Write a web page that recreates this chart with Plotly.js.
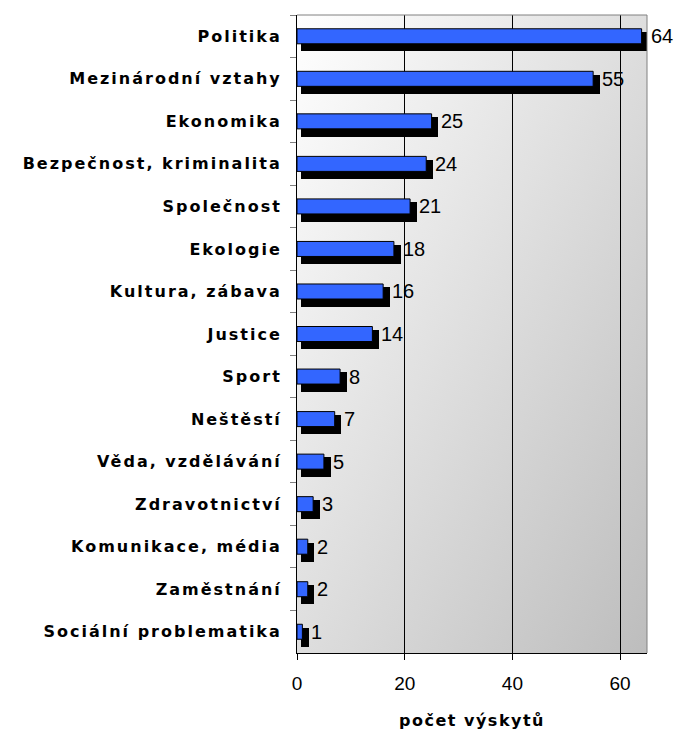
<!DOCTYPE html>
<html><head><meta charset="utf-8">
<script src="https://cdn.plot.ly/plotly-3.0.1.min.js"></script>
<style>
html,body{margin:0;padding:0;background:#fff}
#chart .ytick text{letter-spacing:2px}
#chart .g-xtitle text{letter-spacing:1.5px}
</style></head>
<body><div id="chart" style="width:674px;height:738px"></div>
<script>
const categories = ["Politika","Mezinárodní vztahy","Ekonomika","Bezpečnost, kriminalita","Společnost","Ekologie","Kultura, zábava","Justice","Sport","Neštěstí","Věda, vzdělávání","Zdravotnictví","Komunikace, média","Zaměstnání","Sociální problematika"];
const counts = [64,55,25,24,21,18,16,14,8,7,5,3,2,2,1];
const xTicks = [0,20,40,60];
const axisTitle = "počet výskytů";

const SHADOW_BASE = 0.65, SHADOW_EXTRA = 1.23;

const gradSvg = "<svg xmlns='http://www.w3.org/2000/svg' width='350' height='638' preserveAspectRatio='none' viewBox='0 0 350 638'><defs><linearGradient id='g' gradientUnits='userSpaceOnUse' x1='0' y1='0' x2='538' y2='299'><stop offset='0' stop-color='#ffffff'/><stop offset='1' stop-color='#bdbdbd'/></linearGradient></defs><rect width='350' height='638' fill='url(#g)'/></svg>";
const gradURI = "data:image/svg+xml;charset=utf-8," + encodeURIComponent(gradSvg);

const shadow = {
  type:'bar', orientation:'h', y:categories,
  x:counts.map(v=>v + SHADOW_EXTRA - SHADOW_BASE), base:SHADOW_BASE,
  offset:-0.098, width:0.456,
  marker:{color:'#000000', line:{width:0}}, hoverinfo:'skip', showlegend:false
};
const bars = {
  type:'bar', orientation:'h', y:categories, x:counts,
  offset:-0.176, width:0.353,
  marker:{color:'#3366ff', line:{color:'#000000', width:1}}, showlegend:false
};

const annotations = counts.map((v,i)=>({
  x:v, y:categories[i], xref:'x', yref:'y',
  text:String(v), showarrow:false, xanchor:'left', yanchor:'middle', xshift:7, yshift:0,
  font:{family:'Liberation Sans, Arial', size:20, color:'#000'}
}));

const layout = {
  width:674, height:738,
  margin:{l:297, r:27, t:15, b:85},
  paper_bgcolor:'#ffffff', plot_bgcolor:'rgba(0,0,0,0)',
  barmode:'overlay', bargap:0,
  xaxis:{
    range:[0,65], tickvals:xTicks, ticktext:xTicks.map(String),
    ticks:'outside', ticklen:6, tickcolor:'#000', tickwidth:1,
    showgrid:true, gridcolor:'#000', gridwidth:1, zeroline:false,
    showline:true, linecolor:'#000', linewidth:1,
    tickfont:{family:'Liberation Sans, Arial', size:19, color:'#000'},
    ticklabelstandoff:7,
    title:{text:axisTitle, standoff:22, font:{family:'DejaVu Sans', weight:'bold', size:16, color:'#000'}},
    fixedrange:true
  },
  yaxis:{
    type:'category', autorange:'reversed', tickson:'boundaries',
    ticks:'outside', ticklen:6, tickcolor:'#808080', tickwidth:1,
    showgrid:false, zeroline:false, showline:true, linecolor:'#000', linewidth:1,
    tickfont:{family:'DejaVu Sans', weight:'bold', size:16, color:'#000'},
    ticklabelstandoff:11, fixedrange:true
  },
  images:[{source:gradURI, xref:'paper', yref:'paper', x:0, y:1, sizex:1, sizey:1,
    xanchor:'left', yanchor:'top', sizing:'stretch', layer:'below'}],
  shapes:[
    {type:'line', xref:'paper', yref:'paper', x0:0, x1:1, y0:1, y1:1, line:{color:'#808080', width:1}},
    {type:'line', xref:'paper', yref:'paper', x0:1, x1:1, y0:0, y1:1, line:{color:'#808080', width:1}}
  ],
  annotations:annotations
};

Plotly.newPlot('chart', [shadow, bars], layout, {displayModeBar:false, staticPlot:true});
</script></body></html>
